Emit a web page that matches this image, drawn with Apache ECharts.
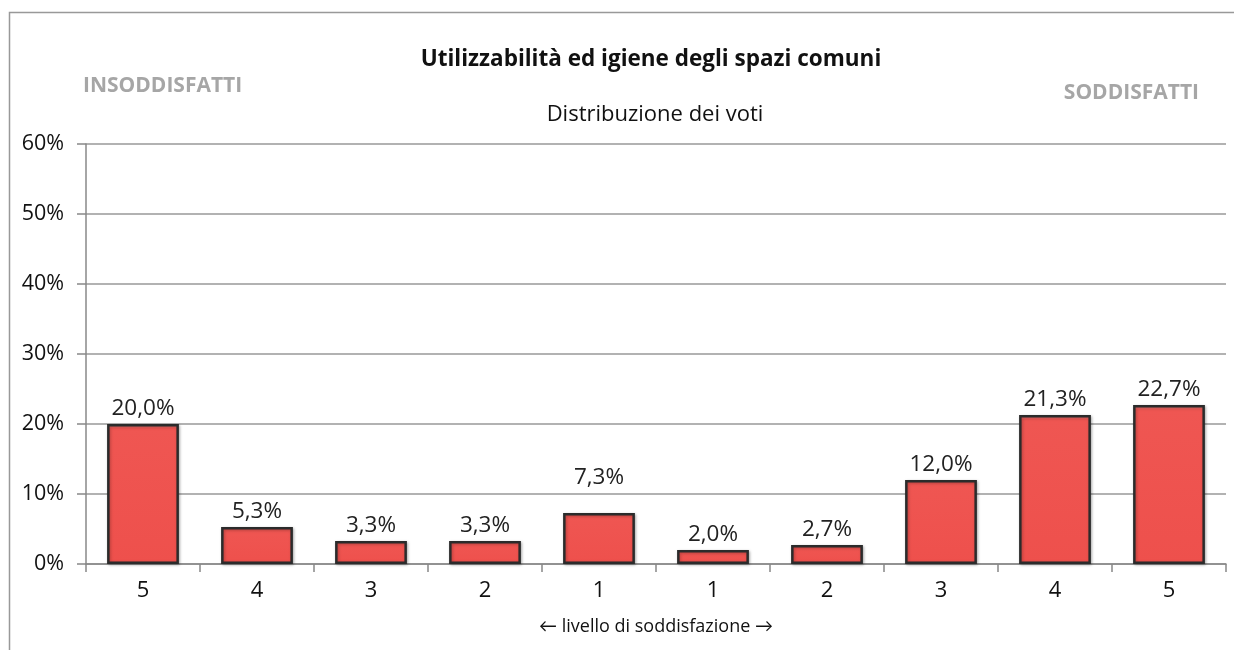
<!DOCTYPE html>
<html>
<head>
<meta charset="utf-8">
<script src="https://cdn.jsdelivr.net/npm/echarts@6/dist/echarts.min.js"></script>
<style>
  html, body { margin: 0; padding: 0; background: #fff; }
  #chart { width: 1234px; height: 650px; }
</style>
</head>
<body>
<div id="chart"></div>
<script>
// categorie (livello di soddisfazione) e percentuali
const categories = ['5', '4', '3', '2', '1', '1', '2', '3', '4', '5']
const values = [20.0, 5.3, 3.3, 3.3, 7.3, 2.0, 2.7, 12.0, 21.3, 22.7]
const yTicks = [0, 10, 20, 30, 40, 50, 60]

const font = '"Open Sans", Lato, sans-serif'
const fmt = v => v.toFixed(1).replace('.', ',') + '%'

// nel grafico originale l'etichetta del 5° valore sta più in alto
const barData = values.map((v, i) => (i === 4 ? { value: v, label: { distance: 24 } } : v))

const myChart = echarts.init(document.getElementById('chart'))
myChart.setOption({
  animation: false,
  textStyle: { fontFamily: font },
  title: [
    {
      text: 'Utilizzabilità ed igiene degli spazi comuni',
      left: 646, top: 43, textAlign: 'center',
      textStyle: { fontSize: 22.5, fontWeight: 'bold', color: '#111', fontFamily: font },
    },
    {
      text: 'Distribuzione dei voti',
      left: 650, top: 99, textAlign: 'center',
      textStyle: { fontSize: 22, fontWeight: 'normal', color: '#111', fontFamily: font },
    },
    {
      text: 'INSODDISFATTI',
      left: 78, top: 71,
      textStyle: { fontSize: 21, fontWeight: 'bold', color: '#a6a6a6', fontFamily: font },
    },
    {
      text: 'SODDISFATTI',
      right: 30, top: 78,
      textStyle: { fontSize: 21, fontWeight: 'bold', color: '#a6a6a6', fontFamily: font },
    },
  ],
  graphic: [
    {
      type: 'rect',
      shape: { x: 9.5, y: 12.5, width: 1240, height: 700 },
      style: { fill: 'none', stroke: '#999', lineWidth: 1.5 },
      silent: true,
    },
  ],
  grid: { left: 86, right: 8, top: 144, bottom: 86 },
  xAxis: {
    type: 'category',
    data: categories,
    name: '← livello di soddisfazione →',
    nameLocation: 'middle',
    nameGap: 54,
    nameTextStyle: { fontSize: 18, color: '#111' },
    axisLine: { lineStyle: { color: '#888', width: 1.5 } },
    axisTick: { show: true, length: 8, lineStyle: { color: '#888', width: 1.5 } },
    axisLabel: { fontSize: 22, color: '#111', margin: 16 },
  },
  yAxis: {
    type: 'value',
    min: yTicks[0],
    max: yTicks[yTicks.length - 1],
    interval: 10,
    axisLine: { show: true, lineStyle: { color: '#888', width: 1.5 } },
    axisTick: { show: true, length: 9, lineStyle: { color: '#888', width: 1.5 } },
    axisLabel: { fontSize: 21.5, color: '#111', margin: 22, formatter: v => v + '%' },
    splitLine: { lineStyle: { color: '#999', width: 1.5 } },
  },
  series: [
    {
      type: 'bar',
      data: barData,
      barWidth: '63%',
      itemStyle: {
        color: new echarts.graphic.LinearGradient(0, 0, 0, 1, [
          { offset: 0, color: '#f58a86' },
          { offset: 0.03, color: '#ef5652' },
          { offset: 1, color: '#ee504c' },
        ]),
        borderColor: '#2b2b2b',
        borderWidth: 2.5,
        shadowColor: 'rgba(0,0,0,0.25)',
        shadowBlur: 3,
        shadowOffsetX: 1,
        shadowOffsetY: 1,
      },
      label: {
        show: true,
        position: 'top',
        distance: 4,
        fontSize: 22.5,
        color: '#222',
        formatter: p => fmt(p.value),
      },
    },
  ],
})
</script>
</body>
</html>
